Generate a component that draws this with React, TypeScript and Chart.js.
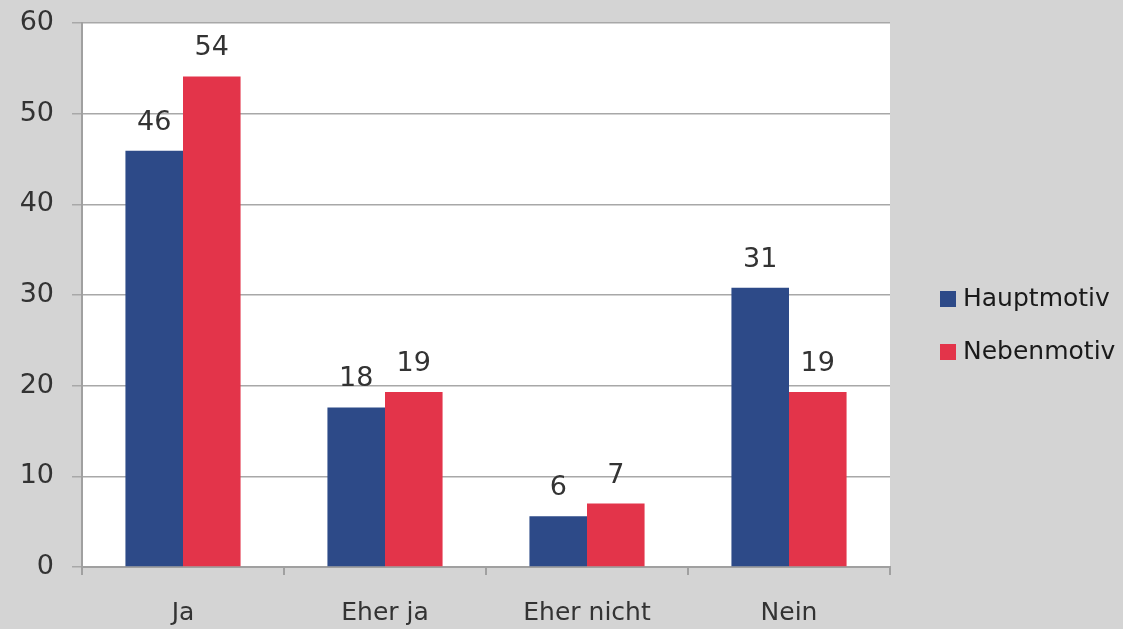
import React, { useEffect, useRef } from "react";
import { Chart, registerables } from "chart.js";

Chart.register(...registerables);

const categories = ["Ja", "Eher ja", "Eher nicht", "Nein"];
const hauptmotiv = [45.9, 17.6, 5.6, 30.8];
const nebenmotiv = [54.1, 19.3, 7.0, 19.3];
const hauptLabels = ["46", "18", "6", "31"];
const nebenLabels = ["54", "19", "7", "19"];
const seriesNames = ["Hauptmotiv", "Nebenmotiv"];
const yTicks = [0, 10, 20, 30, 40, 50, 60];

const BLUE = "#2d4a88";
const RED = "#e3344a";
const FONT = "'DejaVu Sans', sans-serif";

const bgPlugin = {
  id: "bg",
  beforeDraw(chart: any) {
    const { ctx, chartArea } = chart;
    ctx.save();
    ctx.fillStyle = "#d4d4d4";
    ctx.fillRect(0, 0, chart.width, chart.height);
    ctx.fillStyle = "#ffffff";
    ctx.fillRect(chartArea.left, chartArea.top, chartArea.right - chartArea.left, chartArea.bottom - chartArea.top);
    ctx.restore();
  },
};

const xTickPlugin = {
  id: "xTickMarks",
  afterDraw(chart: any) {
    const { ctx, chartArea } = chart;
    const xs = chart.scales.x;
    const n = categories.length;
    const step = (chartArea.right - chartArea.left) / n;
    ctx.save();
    ctx.strokeStyle = "#a0a0a0";
    ctx.lineWidth = 2;
    for (let i = 0; i <= n; i++) {
      const x = Math.round(xs.left + step * i);
      ctx.beginPath();
      ctx.moveTo(x, chartArea.bottom);
      ctx.lineTo(x, chartArea.bottom + 8);
      ctx.stroke();
    }
    ctx.restore();
  },
};

const labelsPlugin = {
  id: "valueLabels",
  afterDatasetsDraw(chart: any) {
    const { ctx } = chart;
    const lbls = [hauptLabels, nebenLabels];
    ctx.save();
    ctx.font = `27px ${FONT}`;
    ctx.fillStyle = "#333333";
    ctx.textAlign = "center";
    ctx.textBaseline = "alphabetic";
    chart.data.datasets.forEach((ds: any, di: number) => {
      const meta = chart.getDatasetMeta(di);
      meta.data.forEach((el: any, i: number) => {
        ctx.fillText(lbls[di][i], el.x, el.y - 21);
      });
    });
    ctx.restore();
  },
};

const legendPlugin = {
  id: "customLegend",
  afterDraw(chart: any) {
    const { ctx } = chart;
    const x0 = 940;
    const ys = [299, 352];
    ctx.save();
    ctx.font = `25px ${FONT}`;
    ctx.textBaseline = "middle";
    ctx.textAlign = "left";
    chart.data.datasets.forEach((ds: any, i: number) => {
      ctx.fillStyle = ds.backgroundColor;
      ctx.fillRect(x0, ys[i] - 8, 16, 16);
      ctx.fillStyle = "#1a1a1a";
      ctx.fillText(ds.label, x0 + 23, ys[i]);
    });
    ctx.restore();
  },
};

export default function App() {
  const ref = useRef<HTMLCanvasElement>(null);
  useEffect(() => {
    const chart = new Chart(ref.current!, {
      type: "bar",
      data: {
        labels: categories,
        datasets: [
          { label: seriesNames[0], data: hauptmotiv, backgroundColor: BLUE, categoryPercentage: 0.57, barPercentage: 1 },
          { label: seriesNames[1], data: nebenmotiv, backgroundColor: RED, categoryPercentage: 0.57, barPercentage: 1 },
        ],
      },
      options: {
        animation: false,
        responsive: false,
        maintainAspectRatio: false,
        layout: { padding: { left: 0, right: 233, top: 23, bottom: 0 } },
        plugins: { legend: { display: false }, tooltip: { enabled: false } },
        scales: {
          x: {
            grid: { display: false },
            border: { color: "#a0a0a0", width: 2 },
            ticks: { color: "#333333", font: { family: FONT, size: 25 }, padding: 23 },
            afterFit: (s: any) => { s.height = 62; s.paddingLeft = 0; s.paddingRight = 0; },
          },
          y: {
            min: 0,
            max: 60,
            afterBuildTicks: (s: any) => { s.ticks = yTicks.map((v) => ({ value: v })); },
            grid: { color: "#a8a8a8", lineWidth: 1.5, tickLength: 10 },
            border: { color: "#a0a0a0", width: 2 },
            ticks: { color: "#333333", font: { family: FONT, size: 27 }, padding: 18 },
            afterFit: (s: any) => { s.width = 82; s.paddingTop = 0; s.paddingBottom = 0; },
          },
        },
      },
      plugins: [bgPlugin, labelsPlugin, xTickPlugin, legendPlugin],
    });
    return () => chart.destroy();
  }, []);
  return (
    <div style={{ position: "fixed", left: 0, top: 0, width: 1123, height: 629, background: "#d4d4d4" }}>
      <canvas ref={ref} width={1123} height={629} />
    </div>
  );
}
